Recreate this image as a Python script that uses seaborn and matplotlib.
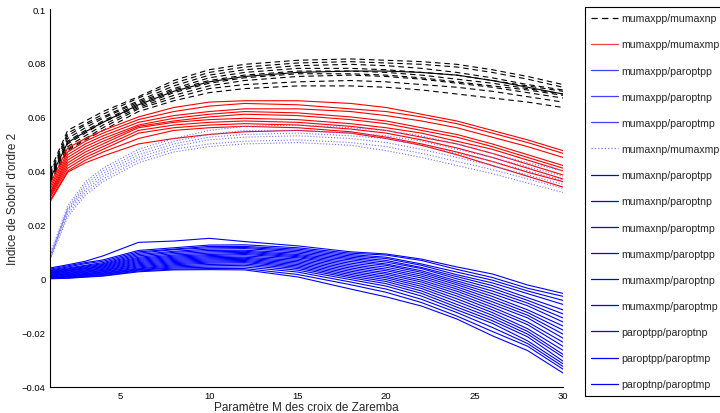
"""
Sobol' second-order indices versus the Zaremba cross parameter M.
"""

import matplotlib

matplotlib.use("Agg")
import matplotlib.pyplot as plt
import numpy as np
import pandas as pd
import seaborn as sns
from matplotlib.lines import Line2D
from matplotlib.ticker import FuncFormatter

# Values, in units of 1e-3
M = [1, 2, 3, 4, 6, 8, 10, 12, 15, 18, 20, 22, 24, 26, 28, 30]

black_dashed = [
    [40, 55, 58.5, 62, 67.5, 73.5, 77.5, 79.5, 81, 81.5, 81, 80.5, 79.5, 77.5, 75, 72],
    [39, 54, 57.5, 61, 67, 72.5, 76.5, 78.5, 80, 80.5, 80, 79.5, 78.5, 76.5, 74, 71],
    [38.5, 53, 57, 60, 66, 71.5, 75.5, 77.5, 79, 79.5, 79, 78, 76.5, 74.5, 72, 70],
    [38, 52, 56, 59.5, 65.5, 70.5, 74.5, 76.5, 78, 78, 77.5, 76.5, 75.5, 73.5, 71.5, 69.5],
    [37.5, 51, 55, 58.5, 65, 70, 73.5, 75.5, 77, 77, 76.5, 75.5, 74, 72.5, 70.5, 68.5],
    [37, 50, 54, 58, 64, 69, 72.5, 74.5, 76, 76, 75.5, 74.5, 73, 71.5, 70, 68],
    [36.5, 49, 53, 57, 63.5, 68, 71.5, 73.5, 75, 75.5, 75, 74, 72.5, 71, 69, 67],
    [36, 48, 52, 56, 63, 67, 70.5, 72, 73, 73.5, 73, 72, 71, 69.5, 67.5, 65.5],
    [35.5, 47.5, 51.5, 55, 62, 66, 69, 70.5, 71.5, 71.5, 71, 70, 68.5, 67, 65.5, 63.5],
]

black_solid = [
    [37, 50.5, 54.5, 58, 64.5, 69.5, 73, 75, 76.5, 77, 77, 76.5, 75.5, 73.5, 71, 68.5],
]

red = [
    [35, 48.5, 52, 55, 60, 63.5, 65.5, 66, 66, 65, 63.5, 61, 58.5, 55, 51.5, 47.5],
    [34, 47, 51, 54, 59, 62, 64, 65, 64.5, 63, 62, 60, 57.5, 54, 50.5, 46.5],
    [33, 46, 50, 53, 58, 60.5, 62, 63, 63, 62, 60.5, 58.5, 56, 52.5, 49, 45],
    [32, 45, 49, 52, 57, 59.5, 61, 62, 61.5, 60, 58.5, 56, 53.5, 50, 46, 42],
    [31.5, 44, 48, 51, 56.5, 58.5, 60, 61, 60.5, 59, 57.5, 55, 52.5, 49, 45, 41],
    [31, 43, 47, 50, 56, 58, 59, 59.5, 59, 57.5, 56, 54, 51, 48, 44, 40],
    [30.5, 42, 46, 49, 55, 57, 58, 58.5, 58, 56.5, 55, 52.5, 50, 46.5, 42.5, 38.5],
    [30, 41, 45, 48, 54, 56, 57, 57.5, 57, 55.5, 54, 51.5, 48.5, 45, 41, 37],
    [29, 40, 44, 47, 52, 55, 56, 56.5, 56, 54.5, 52.5, 50, 47, 43.5, 39.5, 36],
    [28.5, 39.5, 43, 45.5, 50, 52, 53.5, 54.5, 55, 54, 52, 49.5, 46, 42, 38, 34],
]

blue_dotted = [
    [9, 27, 36, 41, 48, 52, 55, 56.5, 57, 56, 55, 53, 50, 46.5, 43, 40],
    [8.5, 26, 35, 40, 47, 51, 53.5, 55, 55, 54, 53, 51, 48, 45, 41.5, 38],
    [8, 25.5, 34, 39, 46, 50, 52.5, 53.5, 54, 53, 52, 49.5, 46.5, 43.5, 40, 36.5],
    [7.5, 25, 33, 38, 45, 49, 51.5, 52.5, 53, 52, 50.5, 48, 45, 42, 38.5, 35],
    [7.5, 24, 32, 37, 44, 48, 50, 51, 51.5, 50.5, 49, 46.5, 43.5, 40.5, 37, 33.5],
    [7, 23, 31, 36, 43, 47, 49, 50, 50.5, 49.5, 47.5, 45, 42, 39, 35.5, 32],
]

blue = [
    [4.0, 5.2, 6.5, 8.5, 13.5, 14.0, 15.0, 13.8, 12.2, 10.0, 9.2, 7.3, 4.4, 1.8, -2.3, -5.4],
    [3.6, 4.8, 6.0, 7.0, 10.5, 11.5, 12.5, 12.6, 11.5, 9.5, 8.8, 6.8, 3.5, 0.5, -3.5, -6.5],
    [3.2, 4.4, 5.6, 6.5, 10.0, 11.0, 12.0, 12.0, 11.0, 9.0, 8.0, 5.5, 2.5, -0.5, -4.5, -8.0],
    [3.0, 4.0, 5.0, 6.0, 9.5, 10.8, 11.5, 11.6, 10.5, 8.5, 7.5, 5.0, 1.5, -1.5, -5.5, -9.5],
    [2.7, 3.7, 4.7, 5.6, 9.0, 10.2, 11.0, 11.2, 10.0, 8.0, 6.8, 4.2, 0.8, -2.5, -7.0, -11.5],
    [2.5, 3.5, 4.4, 5.3, 8.5, 9.8, 10.5, 10.6, 9.5, 7.5, 6.2, 3.8, 0.0, -3.5, -8.0, -13.0],
    [2.3, 3.2, 4.1, 5.0, 8.0, 9.3, 10.0, 10.2, 9.0, 7.0, 5.5, 3.0, -0.8, -4.5, -9.0, -14.5],
    [2.1, 3.0, 3.8, 4.7, 7.6, 8.8, 9.5, 9.8, 8.6, 6.4, 5.0, 2.4, -1.5, -5.5, -10.0, -16.0],
    [1.9, 2.8, 3.6, 4.4, 7.2, 8.4, 9.0, 9.4, 8.2, 5.8, 4.3, 1.7, -2.2, -6.5, -11.5, -17.5],
    [1.7, 2.5, 3.3, 4.1, 6.8, 8.0, 8.6, 9.0, 7.8, 5.2, 3.6, 1.0, -3.0, -7.5, -12.5, -19.0],
    [1.5, 2.3, 3.0, 3.8, 6.4, 7.6, 8.2, 8.5, 7.3, 4.6, 3.0, 0.3, -3.8, -8.5, -13.5, -20.5],
    [1.3, 2.0, 2.8, 3.5, 6.0, 7.2, 7.8, 8.0, 6.8, 4.0, 2.3, -0.5, -4.6, -9.5, -14.5, -22.0],
    [1.1, 1.8, 2.5, 3.2, 5.6, 6.8, 7.4, 7.6, 6.3, 3.4, 1.7, -1.2, -5.5, -10.5, -16.0, -23.5],
    [1.0, 1.6, 2.3, 3.0, 5.2, 6.4, 7.0, 7.2, 5.8, 2.8, 1.0, -2.0, -6.4, -11.5, -17.0, -25.0],
    [0.8, 1.4, 2.0, 2.7, 4.8, 6.0, 6.6, 6.8, 5.3, 2.2, 0.4, -2.8, -7.4, -12.5, -18.5, -26.5],
    [0.7, 1.2, 1.8, 2.5, 4.4, 5.6, 6.2, 6.4, 4.8, 1.6, -0.3, -3.6, -8.4, -13.5, -19.5, -28.0],
    [0.5, 1.0, 1.6, 2.2, 4.0, 5.2, 5.8, 6.0, 4.3, 1.0, -1.0, -4.5, -9.5, -14.5, -20.5, -29.0],
    [0.4, 0.8, 1.4, 2.0, 3.7, 4.8, 5.3, 5.5, 3.8, 0.4, -1.8, -5.4, -10.5, -15.5, -21.5, -30.5],
    [0.3, 0.6, 1.2, 1.7, 3.4, 4.4, 4.8, 5.0, 3.2, -0.3, -2.7, -6.4, -11.5, -16.5, -23.0, -31.5],
    [0.2, 0.5, 1.0, 1.5, 3.2, 4.0, 4.3, 4.4, 2.5, -1.2, -3.8, -7.6, -12.5, -18.0, -24.0, -32.5],
    [0.1, 0.3, 0.8, 1.2, 2.9, 3.6, 3.8, 3.8, 1.6, -2.2, -5.0, -8.8, -13.8, -19.5, -25.0, -33.5],
    [0.0, 0.2, 0.6, 1.0, 2.6, 3.3, 3.4, 3.3, 0.7, -3.8, -6.7, -10.1, -14.9, -21.1, -26.6, -34.9],
]

legend_labels = [
    "mumaxpp/mumaxnp", "mumaxpp/mumaxmp", "mumaxpp/paroptpp", "mumaxpp/paroptnp",
    "mumaxpp/paroptmp", "mumaxnp/mumaxmp", "mumaxnp/paroptpp", "mumaxnp/paroptnp",
    "mumaxnp/paroptmp", "mumaxmp/paroptpp", "mumaxmp/paroptnp", "mumaxmp/paroptmp",
    "paroptpp/paroptnp", "paroptpp/paroptmp", "paroptnp/paroptmp",
]


def to_long(lines):
    rows = []
    for run, vals in enumerate(lines):
        for m, v in zip(M, vals):
            rows.append({"M": m, "S": v / 1000, "run": run})
    return pd.DataFrame(rows)


sns.set_style("white")
plt.rcParams["font.family"] = ["Liberation Sans", "DejaVu Sans"]

fig = plt.figure(figsize=(7.2, 4.14), dpi=100)
ax = fig.add_axes([0.0694, 0.0635, 0.7125, 0.9123])

dash = (0, (5, 3.5))
groups = [
    (black_dashed, dict(color="black", linestyle=dash)),
    (red, dict(color="#ff0000", linestyle="-")),
    (blue, dict(color="#0000ff", linestyle="-")),
    (blue_dotted, dict(color="#7070ff", linestyle=":")),
    (black_solid, dict(color="black", linestyle="-")),
]
for lines, style in groups:
    sns.lineplot(
        data=to_long(lines), x="M", y="S", units="run", estimator=None,
        lw=0.8, ax=ax, legend=False, **style,
    )

ax.set_xlim(1, 30)
ax.set_ylim(-0.04, 0.1)
ax.set_xticks([5, 10, 15, 20, 25, 30])
ax.set_yticks(np.arange(-0.04, 0.1001, 0.02))
ax.yaxis.set_major_formatter(FuncFormatter(lambda v, p: f"{v:g}".replace("-", "\u2212") if abs(v) > 1e-9 else "0"))
ax.tick_params(direction="in", length=4, width=0.8, labelsize=6.8, colors="black", pad=3)
ax.set_xlabel("Paramètre M des croix de Zaremba", fontsize=8.5, labelpad=1)
ax.set_ylabel("Indice de Sobol' d'ordre 2", fontsize=8.5, labelpad=2)
sns.despine(ax=ax)
for s in ["left", "bottom"]:
    ax.spines[s].set_color("black")
    ax.spines[s].set_linewidth(0.8)

handle_styles = [
    dict(color="black", linestyle=dash),
    dict(color="#ff4040"),
    dict(color="#4040ff"), dict(color="#4040ff"), dict(color="#4040ff"),
    dict(color="#7070ff", linestyle=":"),
] + [dict(color="#0000ff")] * 9
handles = [Line2D([], [], lw=0.9, **s) for s in handle_styles]
leg = fig.legend(
    handles, legend_labels, loc="upper left", bbox_to_anchor=(585 / 720, 1 - 8 / 414),
    borderaxespad=0, fontsize=7.6, frameon=True, fancybox=False, framealpha=1,
    edgecolor="black", handlelength=2.5, handletextpad=0.35, labelspacing=1.53,
    borderpad=0.6,
)
leg.get_frame().set_linewidth(0.8)

fig.savefig("out.png", dpi=100)
